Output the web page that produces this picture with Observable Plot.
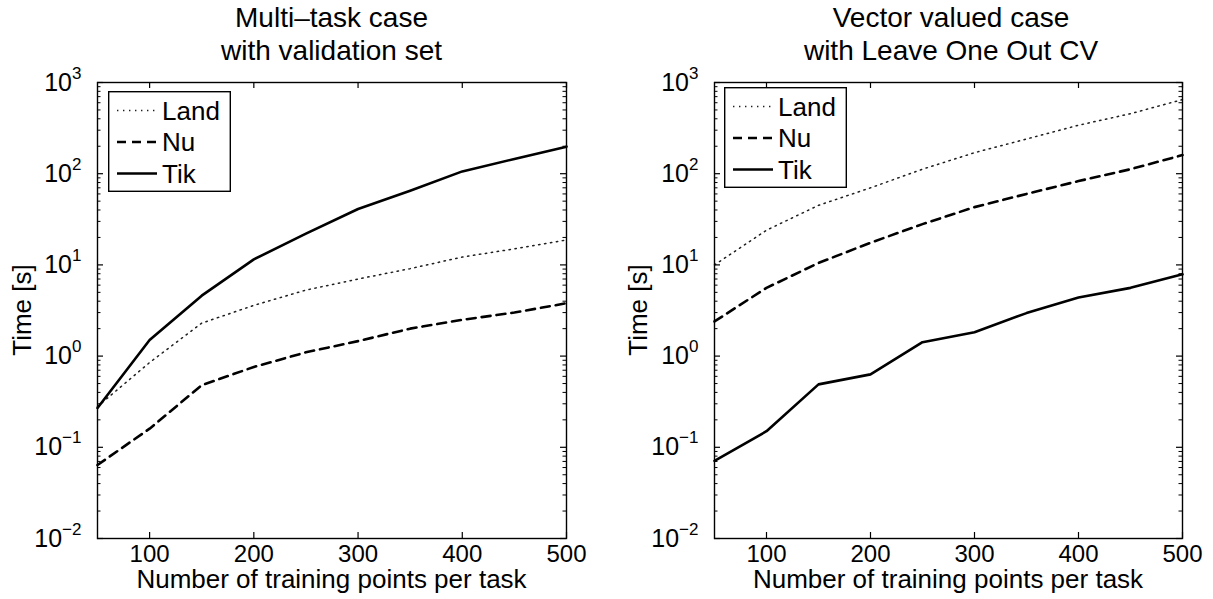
<!DOCTYPE html>
<html>
<head>
<meta charset="utf-8">
<script src="https://cdn.jsdelivr.net/npm/d3@7"></script>
<script src="https://cdn.jsdelivr.net/npm/@observablehq/plot@0.6"></script>
<style>
  html, body { margin: 0; padding: 0; background: #fff; }
  body { font-family: Arial, Helvetica, "Liberation Sans", sans-serif; color: #000; }
  #wrap { position: relative; width: 1213px; height: 599px; overflow: hidden; background: #fff; }
  .panel { position: absolute; top: 0; }
  .title { position: absolute; top: 1px; font-size: 28px; line-height: 33px; text-align: center; white-space: nowrap; transform: translateX(-50%); }
  .xlabel { position: absolute; top: 566px; font-size: 26px; line-height: 1; white-space: nowrap; transform: translateX(-50%); }
  .ylabel { position: absolute; font-size: 26px; line-height: 1; white-space: nowrap; transform: translate(-50%, -50%) rotate(-90deg); }
  .legend { position: absolute; }
</style>
</head>
<body>
<div id="wrap"></div>
<script>
// ---------- data ----------
const xs = [50, 100, 150, 200, 250, 300, 350, 400, 450, 500];
const seriesNames = ["Land", "Nu", "Tik"];

// Left panel: Multi-task case with validation set
const landMT = [0.28, 0.85, 2.3, 3.6, 5.3, 7.0, 9.1, 12.2, 15, 18.8];
const nuMT   = [0.064, 0.16, 0.48, 0.76, 1.1, 1.46, 2.0, 2.5, 3.0, 3.8];
const tikMT  = [0.27, 1.5, 4.6, 11.5, 22, 41, 65, 106, 145, 198];

// Right panel: Vector valued case with Leave One Out CV
const landVV = [10, 24, 45, 70, 112, 170, 240, 340, 455, 650];
const nuVV   = [2.4, 5.6, 10.5, 17.5, 28, 43, 60, 83, 112, 160];
const tikVV  = [0.071, 0.15, 0.49, 0.63, 1.42, 1.83, 2.96, 4.4, 5.6, 7.9];

const titleMT = ["Multi\u2013task case", "with validation set"];
const titleVV = ["Vector valued case", "with Leave One Out CV"];
const xLabel = "Number of training points per task";
const yLabel = "Time [s]";

const xTicks = [100, 200, 300, 400, 500];
const yTicks = [0.01, 0.1, 1, 10, 100, 1000];
const minorMult = [2, 3, 4, 5, 6, 7, 8, 9];
const yMinor = yTicks.slice(0, -1).flatMap(d => minorMult.map(m => m * d));

// ---------- styles ----------
const lineStyle = {
  Land: {stroke: "#1e1e1e", strokeWidth: 1.5, strokeDasharray: "1.4,4.6"},
  Nu:   {stroke: "#000", strokeWidth: 2.6, strokeDasharray: "9,6"},
  Tik:  {stroke: "#000", strokeWidth: 2.6}
};
const FONT = 'Arial, Helvetica, "Liberation Sans", sans-serif';
const H = 599, MT = 82, MB = 61;

const wrap = document.getElementById("wrap");

function supFormat(d) {
  const e = Math.round(Math.log10(d));
  return "10^" + String(e).replace("-", "\u2212");
}

function makePanel(cfg) {
  const {left, width, ml, mr, values, title, legendBox} = cfg;
  const iw = width - ml - mr, ih = H - MT - MB;
  const rows = seriesNames.flatMap((s, i) => xs.map((x, j) => ({s, x, y: values[i][j]})));
  const svg = Plot.plot({
    width, height: H,
    marginLeft: ml, marginRight: mr, marginTop: MT, marginBottom: MB,
    style: {fontFamily: FONT, fontSize: "24px", color: "#000", background: "transparent", overflow: "visible"},
    x: {domain: [50, 500], ticks: xTicks, tickSize: 0, tickPadding: 6, label: null},
    y: {type: "log", domain: [0.01, 1000], ticks: yTicks, tickSize: 0, tickPadding: 16, tickFormat: supFormat, label: null},
    marks: [
      ...seriesNames.map(s => Plot.line(rows.filter(r => r.s === s), {x: "x", y: "y", ...lineStyle[s], strokeLinejoin: "round"})),
      Plot.ruleY(yTicks, {insetRight: iw - 6, stroke: "#000", strokeWidth: 1.2}),
      Plot.ruleY(yTicks, {insetLeft: iw - 6, stroke: "#000", strokeWidth: 1.2}),
      Plot.ruleY(yMinor, {insetRight: iw - 3.5, stroke: "#000", strokeWidth: 1}),
      Plot.ruleY(yMinor, {insetLeft: iw - 3.5, stroke: "#000", strokeWidth: 1}),
      Plot.ruleX(xTicks, {insetTop: ih - 6, stroke: "#000", strokeWidth: 1.2}),
      Plot.ruleX(xTicks, {insetBottom: ih - 6, stroke: "#000", strokeWidth: 1.2}),
      Plot.frame({stroke: "#000", strokeWidth: 1.4})
    ]
  });
  svg.classList.add("panel");
  svg.style.left = left + "px";
  wrap.appendChild(svg);

  // superscript exponents on y tick labels
  svg.querySelectorAll('g[aria-label^="y-axis"] text').forEach(t => {
    const s = t.textContent;
    if (!s.includes("^")) return;
    const [b, e] = s.split("^");
    t.textContent = b;
    t.setAttribute("font-size", "25");
    const ts = document.createElementNS("http://www.w3.org/2000/svg", "tspan");
    ts.setAttribute("dy", "-12");
    ts.setAttribute("font-size", "17");
    ts.textContent = e;
    t.appendChild(ts);
  });

  const cx = left + ml + iw / 2;
  // title
  const tdiv = document.createElement("div");
  tdiv.className = "title";
  tdiv.style.left = (cx + (cfg.titleDx || 0)) + "px";
  tdiv.innerHTML = title.map(t => `<div>${t}</div>`).join("");
  wrap.appendChild(tdiv);
  // x label
  const xl = document.createElement("div");
  xl.className = "xlabel";
  xl.style.left = cx + "px";
  xl.textContent = xLabel;
  wrap.appendChild(xl);
  // y label
  const yl = document.createElement("div");
  yl.className = "ylabel";
  yl.style.left = (left + cfg.ylabelX) + "px";
  yl.style.top = (MT + ih / 2) + "px";
  yl.textContent = yLabel;
  wrap.appendChild(yl);

  // legend
  const [lx, ly, lw, lh] = legendBox;
  const lg = d3.create("svg")
    .attr("class", "legend")
    .attr("width", lw).attr("height", lh)
    .style("left", lx + "px").style("top", ly + "px")
    .style("font-family", FONT).style("font-size", "26px");
  lg.append("rect").attr("x", 0.7).attr("y", 0.7).attr("width", lw - 1.4).attr("height", lh - 1.4)
    .attr("fill", "#fff").attr("stroke", "#000").attr("stroke-width", 1.4);
  seriesNames.forEach((s, i) => {
    const yy = 19.5 + i * 31.5;
    const st = lineStyle[s];
    lg.append("line").attr("x1", 9).attr("x2", 49).attr("y1", yy).attr("y2", yy)
      .attr("stroke", st.stroke).attr("stroke-width", st.strokeWidth)
      .attr("stroke-dasharray", st.strokeDasharray || null);
    lg.append("text").attr("x", 54).attr("y", yy + 9).attr("fill", "#000").text(s);
  });
  wrap.appendChild(lg.node());
}

makePanel({left: 0, width: 606, ml: 97, mr: 40, values: [landMT, nuMT, tikMT], title: titleMT,
  legendBox: [108, 91, 123, 101], ylabelX: 22});
makePanel({left: 606, width: 607, ml: 108, mr: 31, values: [landVV, nuVV, tikVV], title: titleVV,
  legendBox: [724, 87, 123, 101], ylabelX: 32, titleDx: 3});
</script>
</body>
</html>
